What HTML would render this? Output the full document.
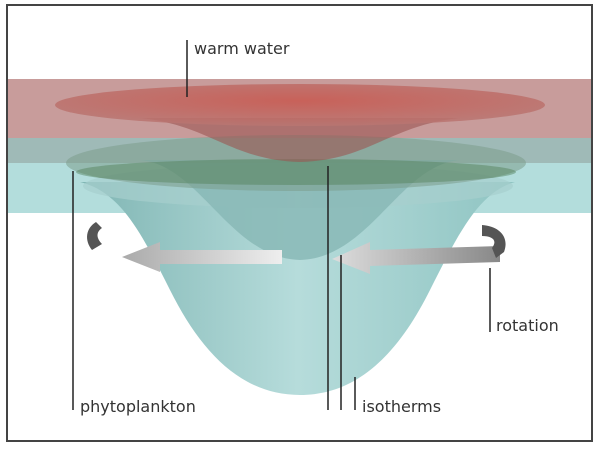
<!DOCTYPE html>
<html><head><meta charset="utf-8"><style>
html,body{margin:0;padding:0;background:#fff;}
svg{display:block;}
text{font-family:"DejaVu Sans","Liberation Sans",sans-serif;font-size:16px;fill:#333;}
</style></head><body>
<svg width="600" height="450" viewBox="0 0 600 450" xmlns="http://www.w3.org/2000/svg">
<defs>
<linearGradient id="cone" x1="0" y1="0" x2="1" y2="0">
<stop offset="0" stop-color="#7fb5b3"/><stop offset="0.5" stop-color="#b6dcdb"/><stop offset="1" stop-color="#8fc4c2"/>
</linearGradient>
<radialGradient id="red" cx="0.5" cy="0.4" r="0.6">
<stop offset="0" stop-color="#c8574e"/><stop offset="1" stop-color="#b97672"/>
</radialGradient>
<linearGradient id="arr" x1="0" y1="0" x2="1" y2="0">
<stop offset="0" stop-color="#aaa"/><stop offset="1" stop-color="#eee"/>
</linearGradient>
<linearGradient id="arr2" x1="0" y1="0" x2="1" y2="0">
<stop offset="0" stop-color="#ddd"/><stop offset="1" stop-color="#888"/>
</linearGradient>
</defs>
<rect x="7" y="5" width="585" height="436" fill="#fff" stroke="#444" stroke-width="2"/>
<rect x="8" y="79" width="583" height="59" fill="#c89c9b"/>
<rect x="8" y="138" width="583" height="25" fill="#9fbab7"/>
<rect x="8" y="163" width="583" height="50" fill="#b3dddc"/>
<path d="M80 182 C120 192 140 230 170 290 C200 350 240 395 300 395 C360 395 400 350 430 290 C460 230 480 192 515 182 Z" fill="url(#cone)"/>
<ellipse cx="298" cy="186" rx="215" ry="22" fill="#a6cfcd" opacity="0.7"/>
<path d="M140 160 C200 165 230 258 300 260 C370 258 400 165 460 160 Z" fill="#88b9b6" opacity="0.85"/>
<ellipse cx="296" cy="163" rx="230" ry="28" fill="#7c9d8c" opacity="0.55"/>
<ellipse cx="296" cy="172" rx="220" ry="13" fill="#4f7f57" opacity="0.45"/>
<path d="M140 118 C210 125 230 160 300 162 C370 160 390 125 460 118 Z" fill="#9b5552" opacity="0.6"/>
<ellipse cx="300" cy="105" rx="245" ry="21" fill="url(#red)" opacity="0.85"/>
<path d="M282 250 L160 250 L160 242 L122 257 L160 272 L160 264 L282 264 Z" fill="url(#arr)"/>
<path d="M500 246 L370 250 L370 242 L332 259 L370 274 L370 266 L500 262 Z" fill="url(#arr2)"/>
<path d="M96 222 C86 228 84 240 92 250 L102 244 C96 238 96 232 102 228 Z" fill="#555"/>
<path d="M482 225 C498 226 510 236 504 252 L496 258 L492 248 C498 240 492 236 482 236 Z" fill="#555"/>
<g stroke="#222" stroke-width="1.5">
<line x1="187" y1="40" x2="187" y2="97"/>
<line x1="73" y1="171" x2="73" y2="410"/>
<line x1="328" y1="166" x2="328" y2="410"/>
<line x1="341" y1="255" x2="341" y2="410"/>
<line x1="355" y1="377" x2="355" y2="410"/>
<line x1="490" y1="268" x2="490" y2="332"/>
</g>
<text x="194" y="54">warm water</text>
<text x="80" y="412">phytoplankton</text>
<text x="362" y="412">isotherms</text>
<text x="496" y="331">rotation</text>
</svg>
</body></html>
